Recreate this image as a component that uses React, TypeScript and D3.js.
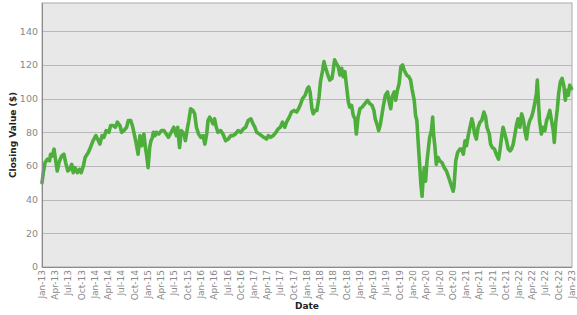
import React from "react";
import * as d3 from "d3";

// Closing values, grouped by year: [date, close]
const series2013: [string, number][] = [
  ["2013-01-01", 50], ["2013-01-10", 56], ["2013-01-22", 62], ["2013-02-07", 64], ["2013-02-22", 63],
  ["2013-03-01", 67], ["2013-03-13", 66], ["2013-03-25", 70], ["2013-04-04", 64], ["2013-04-16", 57],
  ["2013-04-28", 62], ["2013-05-16", 66], ["2013-06-01", 67], ["2013-06-13", 62], ["2013-06-28", 57],
  ["2013-07-10", 58], ["2013-07-25", 61], ["2013-08-04", 56], ["2013-08-16", 59], ["2013-09-01", 56],
  ["2013-09-16", 58], ["2013-09-28", 56], ["2013-10-13", 60], ["2013-10-25", 65], ["2013-11-16", 68],
  ["2013-12-01", 71], ["2013-12-19", 75],
];
const series2014: [string, number][] = [
  ["2014-01-07", 78], ["2014-01-19", 76], ["2014-02-04", 73], ["2014-02-19", 78], ["2014-03-04", 77],
  ["2014-03-19", 81], ["2014-04-07", 80], ["2014-04-19", 84], ["2014-05-07", 84], ["2014-05-22", 83],
  ["2014-06-04", 86], ["2014-06-22", 84], ["2014-07-04", 80], ["2014-07-19", 81], ["2014-08-07", 83],
  ["2014-08-19", 87], ["2014-09-04", 87], ["2014-09-16", 84], ["2014-10-01", 78], ["2014-10-13", 73],
  ["2014-10-25", 67], ["2014-11-07", 78], ["2014-11-19", 72], ["2014-12-04", 79], ["2014-12-16", 70],
  ["2014-12-22", 67],
];
const series2015: [string, number][] = [
  ["2015-01-02", 59], ["2015-01-13", 71], ["2015-01-22", 75], ["2015-02-01", 77], ["2015-02-07", 80],
  ["2015-02-19", 78], ["2015-02-27", 80], ["2015-03-16", 79], ["2015-04-04", 81], ["2015-04-22", 81],
  ["2015-05-07", 79], ["2015-05-22", 77], ["2015-06-10", 80], ["2015-06-28", 83], ["2015-07-16", 78],
  ["2015-07-25", 83], ["2015-08-07", 71], ["2015-08-19", 81], ["2015-09-07", 79], ["2015-09-16", 75],
  ["2015-10-01", 83], ["2015-10-10", 87], ["2015-10-22", 94], ["2015-11-07", 93], ["2015-11-19", 91],
  ["2015-12-01", 83], ["2015-12-16", 79],
];
const series2016: [string, number][] = [
  ["2016-01-01", 77], ["2016-01-16", 78], ["2016-01-28", 73], ["2016-02-10", 79], ["2016-02-19", 87],
  ["2016-03-01", 89], ["2016-03-13", 87], ["2016-03-25", 85], ["2016-04-04", 88], ["2016-04-16", 83],
  ["2016-04-28", 80], ["2016-05-16", 81], ["2016-06-01", 79], ["2016-06-19", 75], ["2016-07-07", 76],
  ["2016-07-25", 78], ["2016-08-10", 78], ["2016-08-25", 79], ["2016-09-13", 81], ["2016-10-01", 80],
  ["2016-10-19", 82], ["2016-11-04", 83], ["2016-11-22", 87], ["2016-12-10", 88], ["2016-12-25", 85],
];
const series2017: [string, number][] = [
  ["2017-01-07", 83], ["2017-01-19", 80], ["2017-02-07", 79], ["2017-02-22", 78], ["2017-03-10", 77],
  ["2017-03-28", 76], ["2017-04-10", 78], ["2017-04-25", 77], ["2017-05-13", 78], ["2017-06-01", 80],
  ["2017-06-16", 82], ["2017-07-01", 83], ["2017-07-16", 86], ["2017-08-01", 83], ["2017-08-13", 86],
  ["2017-09-01", 89], ["2017-09-16", 92], ["2017-10-04", 93], ["2017-10-22", 92], ["2017-11-04", 94],
  ["2017-11-19", 97], ["2017-12-01", 100], ["2017-12-19", 102],
];
const series2018: [string, number][] = [
  ["2018-01-04", 106], ["2018-01-13", 107], ["2018-01-22", 104], ["2018-02-04", 94], ["2018-02-13", 91],
  ["2018-02-27", 93], ["2018-03-10", 93], ["2018-03-25", 101], ["2018-04-04", 110], ["2018-04-19", 117],
  ["2018-04-28", 122], ["2018-05-10", 118], ["2018-05-25", 114], ["2018-06-07", 111], ["2018-06-22", 112],
  ["2018-07-01", 117], ["2018-07-10", 123], ["2018-07-22", 121], ["2018-08-04", 119], ["2018-08-16", 114],
  ["2018-08-28", 118], ["2018-09-07", 113], ["2018-09-19", 116], ["2018-10-01", 107], ["2018-10-13", 98],
  ["2018-10-22", 95], ["2018-11-04", 96], ["2018-11-16", 90], ["2018-11-28", 88], ["2018-12-07", 79],
  ["2018-12-19", 89],
];
const series2019: [string, number][] = [
  ["2019-01-01", 94], ["2019-01-16", 95], ["2019-02-04", 97], ["2019-02-22", 99], ["2019-03-10", 97],
  ["2019-03-25", 96], ["2019-04-07", 93], ["2019-04-16", 88], ["2019-05-01", 84], ["2019-05-10", 81],
  ["2019-05-22", 85], ["2019-06-10", 95], ["2019-06-25", 102], ["2019-07-10", 104], ["2019-07-19", 99],
  ["2019-08-01", 94], ["2019-08-10", 101], ["2019-08-25", 104], ["2019-09-04", 99], ["2019-09-16", 105],
  ["2019-09-28", 109], ["2019-10-10", 119], ["2019-10-22", 120], ["2019-11-01", 117], ["2019-11-19", 114],
  ["2019-12-04", 113], ["2019-12-16", 111], ["2019-12-25", 106],
];
const series2020: [string, number][] = [
  ["2020-01-10", 99], ["2020-01-19", 90], ["2020-01-28", 87], ["2020-02-07", 73], ["2020-02-16", 61],
  ["2020-02-25", 49], ["2020-03-04", 42], ["2020-03-10", 51], ["2020-03-19", 59], ["2020-03-28", 51],
  ["2020-04-07", 63], ["2020-04-16", 70], ["2020-04-25", 77], ["2020-05-07", 81], ["2020-05-16", 89],
  ["2020-05-22", 79], ["2020-06-01", 71], ["2020-06-10", 61], ["2020-06-22", 65], ["2020-07-04", 63],
  ["2020-07-19", 62], ["2020-08-04", 59], ["2020-08-19", 57], ["2020-09-04", 53], ["2020-09-19", 49],
  ["2020-10-04", 45], ["2020-10-10", 48], ["2020-10-22", 63], ["2020-11-04", 68], ["2020-11-19", 70],
  ["2020-12-01", 70], ["2020-12-13", 67], ["2020-12-25", 75],
];
const series2021: [string, number][] = [
  ["2021-01-04", 72], ["2021-01-16", 78], ["2021-01-28", 83], ["2021-02-10", 88], ["2021-02-19", 85],
  ["2021-03-01", 79], ["2021-03-13", 76], ["2021-03-25", 83], ["2021-04-07", 86], ["2021-04-19", 87],
  ["2021-05-04", 92], ["2021-05-16", 89], ["2021-05-25", 83], ["2021-06-10", 79], ["2021-06-19", 73],
  ["2021-07-01", 71], ["2021-07-16", 70], ["2021-07-28", 67], ["2021-08-13", 64], ["2021-08-22", 69],
  ["2021-09-04", 78], ["2021-09-13", 83], ["2021-09-25", 79], ["2021-10-07", 75], ["2021-10-19", 70],
  ["2021-11-01", 69], ["2021-11-10", 70], ["2021-11-22", 73], ["2021-12-04", 79], ["2021-12-16", 85],
  ["2021-12-25", 88],
];
const series2022: [string, number][] = [
  ["2022-01-07", 83], ["2022-01-19", 91], ["2022-02-01", 87], ["2022-02-10", 81], ["2022-02-22", 76],
  ["2022-03-04", 83], ["2022-03-16", 87], ["2022-03-28", 89], ["2022-04-07", 92], ["2022-04-19", 97],
  ["2022-05-01", 103], ["2022-05-07", 111], ["2022-05-13", 101], ["2022-05-22", 87], ["2022-06-04", 79],
  ["2022-06-16", 83], ["2022-06-28", 81], ["2022-07-10", 87], ["2022-07-19", 89], ["2022-08-01", 93],
  ["2022-08-13", 87], ["2022-08-25", 81], ["2022-09-01", 74], ["2022-09-10", 85], ["2022-09-22", 94],
  ["2022-10-01", 103], ["2022-10-13", 110], ["2022-10-25", 112], ["2022-11-07", 107], ["2022-11-16", 99],
  ["2022-11-25", 105], ["2022-12-07", 102], ["2022-12-16", 108], ["2022-12-28", 106],
];

const yTicks = [0, 20, 40, 60, 80, 100, 120, 140];
const xDomain = ["2013-01-01", "2023-01-01"];
const yMax = 156.8;

const W = 577;
const H = 315;
const M = { left: 42, right: 5, top: 3, bottom: 48 };

export default function App() {
  const parse = d3.utcParse("%Y-%m-%d");
  const data = [
    ...series2013, ...series2014, ...series2015, ...series2016, ...series2017,
    ...series2018, ...series2019, ...series2020, ...series2021, ...series2022,
  ].map(([d, v]) => ({ date: parse(d) as Date, value: v }));

  const x = d3
    .scaleUtc()
    .domain(xDomain.map((d) => parse(d) as Date))
    .range([M.left, W - M.right]);
  const y = d3.scaleLinear().domain([0, yMax]).range([H - M.bottom, M.top]);

  const line = d3
    .line<{ date: Date; value: number }>()
    .x((d) => x(d.date))
    .y((d) => y(d.value))
    .curve(d3.curveLinear);

  const xTicks = d3.utcMonth.every(3)!.range(x.domain()[0], d3.utcDay.offset(x.domain()[1], 1));
  const fmt = d3.utcFormat("%b-%y");
  const font = "'DejaVu Sans', Verdana, sans-serif";
  const plotBottom = H - M.bottom;

  return (
    <svg
      width={W}
      height={H}
      style={{ position: "absolute", left: 0, top: 0, background: "#fff" }}
      fontFamily={font}
    >
      <rect
        x={M.left}
        y={M.top}
        width={W - M.left - M.right}
        height={plotBottom - M.top}
        fill="#e8e8e8"
        stroke="#aaaaaa"
        strokeWidth={1}
      />
      {yTicks.filter((t) => t > 0).map((t) => (
        <line
          key={t}
          x1={M.left}
          x2={W - M.right}
          y1={Math.round(y(t)) + 0.5}
          y2={Math.round(y(t)) + 0.5}
          stroke="#b8b8b8"
          strokeWidth={1}
        />
      ))}
      <path
        d={line(data) || ""}
        fill="none"
        stroke="#4dae3b"
        strokeWidth={3.6}
        strokeLinejoin="round"
        strokeLinecap="round"
      />
      <line x1={M.left + 0.5} x2={M.left + 0.5} y1={M.top} y2={plotBottom} stroke="#8a8a8a" />
      <line x1={M.left} x2={W - M.right} y1={plotBottom + 0.5} y2={plotBottom + 0.5} stroke="#8a8a8a" />
      {yTicks.map((t) => (
        <text
          key={t}
          x={38}
          y={y(t)}
          dy="0.35em"
          textAnchor="end"
          fontSize={9.5}
          fill="#888"
        >
          {t}
        </text>
      ))}
      {xTicks.map((t) => (
        <text
          key={+t}
          transform={`translate(${x(t) + 3.2},${plotBottom + 3}) rotate(-90)`}
          textAnchor="end"
          fontSize={9}
          fill="#888"
        >
          {fmt(t)}
        </text>
      ))}
      <text
        transform={`translate(16,${(M.top + plotBottom) / 2}) rotate(-90)`}
        textAnchor="middle"
        fontSize={9}
        fontWeight="bold"
        fill="#222"
      >
        Closing Value ($)
      </text>
      <text
        x={(M.left + W - M.right) / 2}
        y={309}
        textAnchor="middle"
        fontSize={9}
        fontWeight="bold"
        fill="#222"
      >
        Date
      </text>
    </svg>
  );
}
